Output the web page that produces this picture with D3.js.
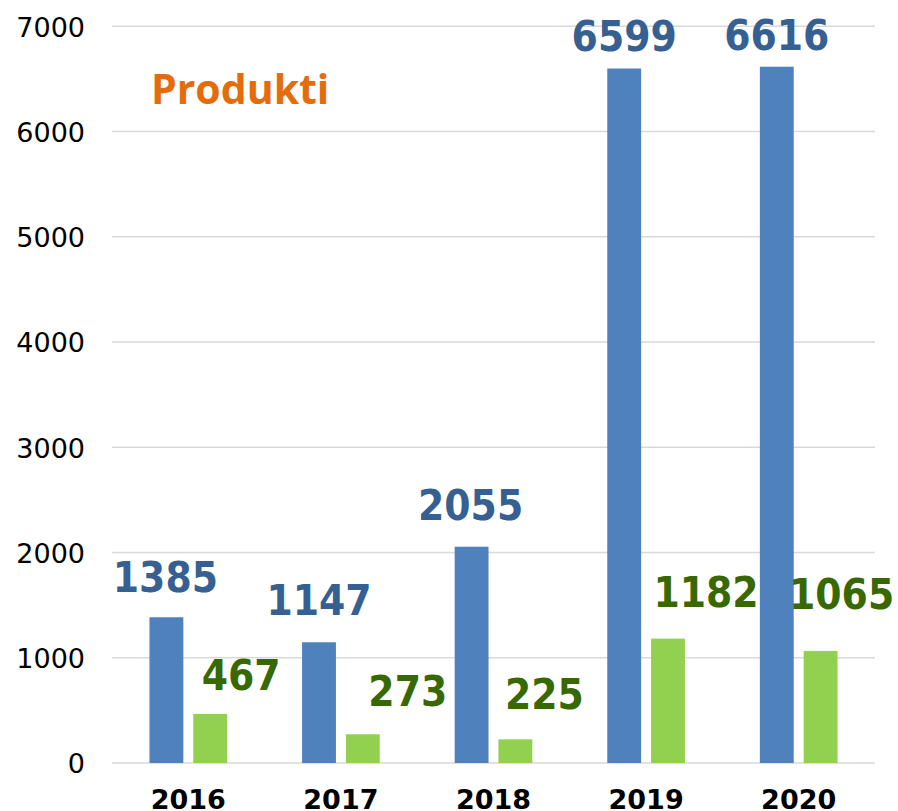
<!DOCTYPE html>
<html>
<head>
<meta charset="utf-8">
<script src="https://cdn.jsdelivr.net/npm/d3@7"></script>
<style>
  body { margin: 0; background: #fff; }
</style>
</head>
<body>
<div id="chart"></div>
<script>
// chart data
var years = ["2016", "2017", "2018", "2019", "2020"];
var blueValues = [1385, 1147, 2055, 6599, 6616];
var greenValues = [467, 273, 225, 1182, 1065];
var yTicks = [0, 1000, 2000, 3000, 4000, 5000, 6000, 7000];

// hand placed label offsets, [dx, gap above bar]
var blueLabelPos = [[-1, 25], [0, 27], [-1, 27], [0, 18], [0, 17]];
var greenLabelPos = [[31, 24], [45, 28], [29, 30], [38, 32], [21, 42]];

var svgWidth = 898;
var svgHeight = 811;

var svg = d3.select("#chart")
    .append("svg")
    .attr("width", svgWidth)
    .attr("height", svgHeight);

var xScale = d3.scaleBand()
    .domain(years)
    .range([112, 875])
    .paddingInner(0.491)
    .paddingOuter(0.2455);

var subScale = d3.scaleBand()
    .domain(["blue", "green"])
    .range([0, xScale.bandwidth()])
    .paddingInner(0.227);

var yScale = d3.scaleLinear()
    .domain([0, 7000])
    .range([763, 26.3]);

// gridlines
svg.append("g")
    .selectAll("line")
    .data(yTicks)
    .enter()
    .append("line")
    .attr("x1", 112)
    .attr("x2", 875)
    .attr("y1", d => yScale(d))
    .attr("y2", d => yScale(d))
    .attr("stroke", "#d9d9d9")
    .attr("stroke-width", 1.5);

// y axis labels
var leftAxis = d3.axisLeft(yScale)
    .tickValues(yTicks)
    .tickFormat(d3.format("d"))
    .tickSize(0)
    .tickPadding(0);
var yAxis = svg.append("g")
    .attr("transform", "translate(85,0)")
    .call(leftAxis);
yAxis.select(".domain").remove();
yAxis.selectAll("text")
    .attr("dy", "0.36em")
    .style("font-family", "DejaVu Sans, Verdana, sans-serif")
    .style("font-size", "27px")
    .style("fill", "#000");

// x axis labels
var bottomAxis = d3.axisBottom(xScale).tickSize(0).tickPadding(0);
var xAxis = svg.append("g")
    .attr("transform", "translate(0,763)")
    .call(bottomAxis);
xAxis.select(".domain").remove();
xAxis.selectAll("text")
    .attr("y", 46)
    .attr("dy", 0)
    .style("font-family", "DejaVu Sans, Verdana, sans-serif")
    .style("font-weight", "bold")
    .style("font-size", "27px")
    .style("fill", "#000");

// bars
var groups = svg.append("g")
    .selectAll("g")
    .data(years)
    .enter()
    .append("g")
    .attr("transform", d => `translate(${xScale(d)},0)`);

groups.append("rect")
    .attr("x", subScale("blue"))
    .attr("y", (d, i) => yScale(blueValues[i]))
    .attr("width", subScale.bandwidth())
    .attr("height", (d, i) => yScale(0) - yScale(blueValues[i]))
    .attr("fill", "#4f81bd");

groups.append("rect")
    .attr("x", subScale("green"))
    .attr("y", (d, i) => yScale(greenValues[i]))
    .attr("width", subScale.bandwidth())
    .attr("height", (d, i) => yScale(0) - yScale(greenValues[i]))
    .attr("fill", "#92d050");

// value labels
var labelFont = "'DejaVu Sans Condensed', 'DejaVu Sans', sans-serif";

groups.append("text")
    .attr("x", (d, i) => subScale("blue") + subScale.bandwidth() / 2 + blueLabelPos[i][0])
    .attr("y", (d, i) => yScale(blueValues[i]) - blueLabelPos[i][1])
    .attr("text-anchor", "middle")
    .style("font-family", labelFont)
    .style("font-stretch", "condensed")
    .style("font-weight", "bold")
    .style("font-size", "42px")
    .style("fill", "#376092")
    .text((d, i) => blueValues[i]);

groups.append("text")
    .attr("x", (d, i) => subScale("green") + subScale.bandwidth() / 2 + greenLabelPos[i][0])
    .attr("y", (d, i) => yScale(greenValues[i]) - greenLabelPos[i][1])
    .attr("text-anchor", "middle")
    .style("font-family", labelFont)
    .style("font-stretch", "condensed")
    .style("font-weight", "bold")
    .style("font-size", "42px")
    .style("fill", "#386900")
    .text((d, i) => greenValues[i]);

// title
svg.append("text")
    .attr("x", 151)
    .attr("y", 104)
    .style("font-family", "'Open Sans', 'Noto Sans', sans-serif")
    .style("font-weight", "bold")
    .style("font-size", "41px")
    .style("fill", "#e46c0a")
    .text("Produkti");
</script>
</body>
</html>
